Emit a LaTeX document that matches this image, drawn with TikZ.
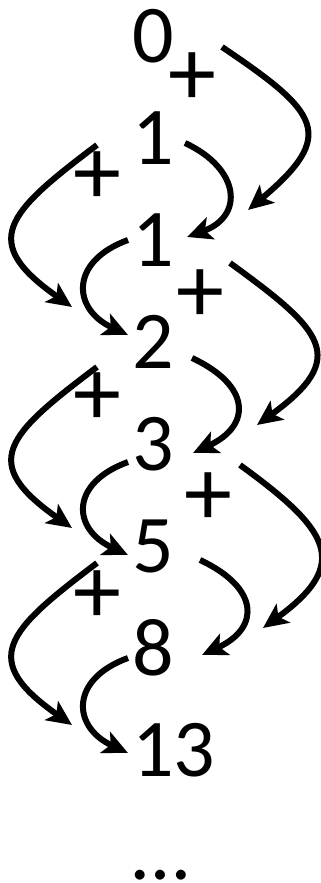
\documentclass[tikz,border=0pt]{standalone}
\usepackage{fontspec}
\setmainfont{Carlito}
\usepackage{tikz}
\usetikzlibrary{arrows.meta,calc}
\definecolor{fibink}{HTML}{000000}
\tikzset{
every picture/.style={line join=round},
fib num/.style={anchor=west, inner sep=0pt, text=fibink, font=\fontsize{82}{96}\selectfont},
fib plus/.style={inner sep=0pt, text=fibink, font=\fontsize{96}{110}\selectfont},
fib flow/.style={
  draw=fibink,
  line width=6pt,
  -{Stealth[length=25pt,width=23pt,inset=6pt]}
}
}
\begin{document}
\begin{tikzpicture}[x=1pt,y=1pt]
\useasboundingbox (0,0) rectangle (321,883);
% the sequence, one row every 102pt
\foreach \v [count=\i from 0] in {0,1,1,2,3,5,8,13} {
\node[fib num] (n\i) at (132,847-102*\i) {\v};
}
\node[fib num, anchor=base west] (dots) at (132,4) {\ldots};
% plus signs
\node[fib plus] (p1) at (192,804) {+};
\node[fib plus] (p2) at (97,705) {+};
\node[fib plus] (p3) at (200,587) {+};
\node[fib plus] (p4) at (97,484) {+};
\node[fib plus] (p5) at (208,384) {+};
\node[fib plus] (p6) at (97,286) {+};
% arrows: from/shift, to/shift, out, in, distance
\foreach \a/\ax/\ay/\b/\bx/\by/\o/\n/\d in {
0/90/-11/2/116/30/-34/40/117,
2/98/-23/4/125/19/-36/36/115,
4/108/-21/6/131/20/-36/36/110,
1/53/-5/2/55/3/-25/20/61,
3/60/-16/4/61/-9/-25/25/65,
5/68/-14/6/70/-7/-25/25/65,
1/-35/-7/3/-60/35/217/145/114,
3/-35/-25/5/-60/18/217/145/114,
5/-35/-17/7/-60/25/217/145/114,
2/-4/0/3/-4/7/200/155/62,
4/-4/-18/5/-4/-9/200/155/62,
6/-4/-10/7/-4/-3/200/155/62} {
\draw[fib flow] ([shift={(\ax,\ay)}]n\a.west) to[out=\o,in=\n,distance=\d pt] ([shift={(\bx,\by)}]n\b.west);
}
\end{tikzpicture}
\end{document}
